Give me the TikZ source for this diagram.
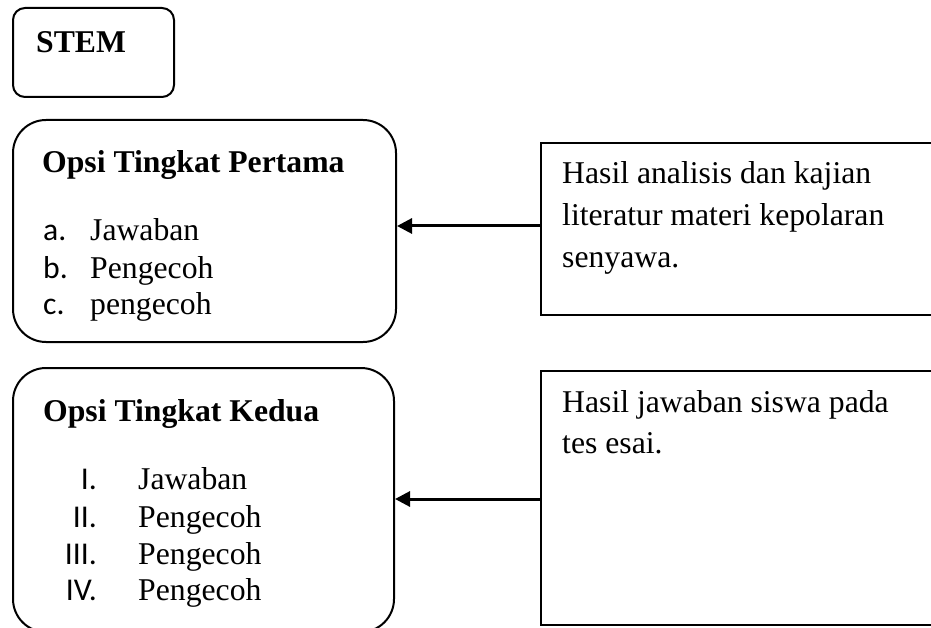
\documentclass[tikz,border=0pt]{standalone}
\usepackage{fontspec}
\setmainfont{Liberation Serif}
\newfontfamily\calfont{Carlito}
\usetikzlibrary{arrows.meta}
\tikzset{
  rbox/.style={draw, line width=2pt, rounded corners=#1, anchor=north west, inner sep=0pt},
  sbox/.style={draw, line width=2pt, anchor=north west, inner sep=0pt},
  txt/.style={inner sep=0pt, anchor=base west, font=\fontsize{31.7pt}{36pt}\selectfont},
  ttl/.style={txt, font=\fontsize{31.7pt}{36pt}\selectfont\bfseries},
  lmark/.style={txt, font=\fontsize{31.7pt}{36pt}\selectfont\calfont},
  rmark/.style={inner sep=0pt, anchor=base east, font=\fontsize{31.7pt}{36pt}\selectfont\calfont},
  arr/.style={line width=3pt, -{Triangle[length=15pt,width=15pt]}}
}
\begin{document}
\begin{tikzpicture}[x=1pt,y=-1pt]
\useasboundingbox (0,0) rectangle (931,628);
\clip (0,0) rectangle (931,628);
% boxes
\node[rbox=12pt, minimum width=161pt, minimum height=89pt] (stem) at (12,7) {};
\node[rbox=33pt, minimum width=383pt, minimum height=222pt] (opt1) at (12,119) {};
\node[rbox=33pt, minimum width=381pt, minimum height=264pt] (opt2) at (12,367) {};
\node[sbox, minimum width=430pt, minimum height=172pt] (src1) at (540,142) {};
\node[sbox, minimum width=430pt, minimum height=254pt] (src2) at (540,370) {};
% texts
\node[ttl] (tstem) at (36,53) {STEM};
\node[ttl] (t1) at (42,173) {Opsi Tingkat Pertama};
\node[lmark] (m1a) at (43,241) {a.};
\node[txt] (l1a) at (90,241) {Jawaban};
\node[lmark] (m1b) at (43,278) {b.};
\node[txt] (l1b) at (90,278) {Pengecoh};
\node[lmark] (m1c) at (43,314) {c.};
\node[txt] (l1c) at (90,314) {pengecoh};
\node[ttl] (t2) at (43,421) {Opsi Tingkat Kedua};
\node[rmark] (m2a) at (97,489) {I.};
\node[txt] (l2a) at (138,489) {Jawaban};
\node[rmark] (m2b) at (97,527) {II.};
\node[txt] (l2b) at (138,527) {Pengecoh};
\node[rmark] (m2c) at (97,564) {III.};
\node[txt] (l2c) at (138,564) {Pengecoh};
\node[rmark] (m2d) at (97,600) {IV.};
\node[txt] (l2d) at (138,600) {Pengecoh};
\node[txt] (s1a) at (562,184) {Hasil analisis dan kajian};
\node[txt] (s1b) at (562,226) {literatur materi kepolaran};
\node[txt] (s1c) at (562,268) {senyawa.};
\node[txt] (s2a) at (562,412) {Hasil jawaban siswa pada};
\node[txt] (s2b) at (562,453) {tes esai.};
% connectors
\draw[arr] ([yshift=3pt]src1.west) -- ([yshift=3pt]src1.west -| opt1.east);
\draw[arr] ([yshift=-1pt]src2.west) -- ([yshift=-1pt]src2.west -| opt2.east);
\end{tikzpicture}
\end{document}
